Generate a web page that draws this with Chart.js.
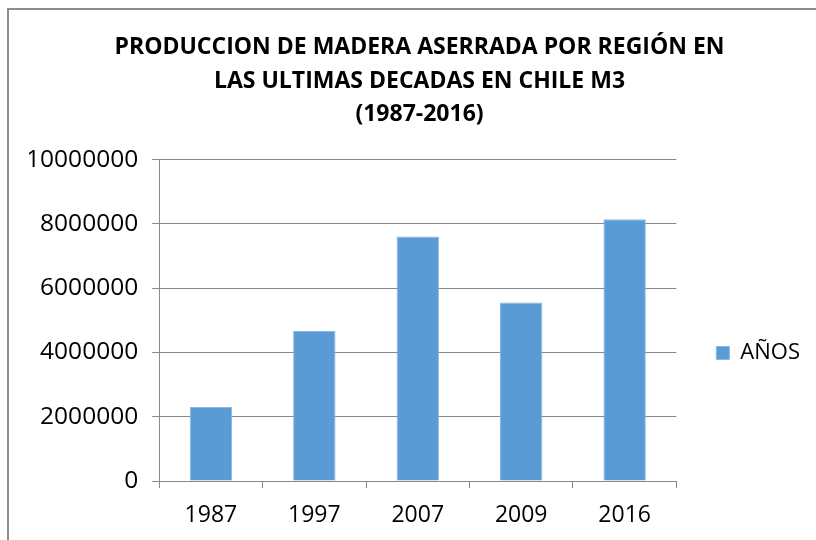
<!DOCTYPE html>
<html>
<head>
<meta charset="utf-8">
<script src="https://cdn.jsdelivr.net/npm/chart.js@4/dist/chart.umd.min.js"></script>
<style>
  html, body { margin: 0; padding: 0; background: #fff; }
  #wrap { width: 816px; height: 540px; position: relative; }
</style>
</head>
<body>
<div id="wrap"><canvas id="chart"></canvas></div>
<script>
// datos
const years = ['1987', '1997', '2007', '2009', '2016'];
const produccion = [2300000, 4670000, 7610000, 5560000, 8150000];
const yTicks = [0, 2000000, 4000000, 6000000, 8000000, 10000000];
const seriesName = 'AÑOS';
const titleLines = [
  'PRODUCCION DE MADERA ASERRADA POR REGIÓN EN',
  'LAS ULTIMAS DECADAS EN CHILE M3',
  '(1987-2016)'
];

const FONT = '"Open Sans", sans-serif';
const GRID = '#888888';

/* fondo blanco + marco gris como en Excel */
const frame = {
  id: 'frame',
  beforeDraw(c) {
    const ctx = c.ctx;
    ctx.save();
    ctx.fillStyle = '#fff';
    ctx.fillRect(0, 0, c.width, c.height);
    ctx.strokeStyle = '#8c8c8c';
    ctx.lineWidth = 2;
    ctx.beginPath();
    ctx.moveTo(8, c.height);
    ctx.lineTo(8, 9);
    ctx.lineTo(c.width, 9);
    ctx.stroke();
    ctx.restore();
  }
};

new Chart(document.getElementById('chart'), {
  type: 'bar',
  data: {
    labels: years,
    datasets: [{
      label: seriesName,
      data: produccion,
      backgroundColor: '#5b9bd5',
      borderColor: '#8ab6e2',
      borderWidth: 1,
      barPercentage: 0.41,
      categoryPercentage: 1
    }]
  },
  options: {
    responsive: true,
    maintainAspectRatio: false,
    animation: false,
    layout: { padding: { left: 29, right: 6, top: 14, bottom: 10 } },
    plugins: {
      title: {
        display: true,
        text: titleLines,
        color: '#000',
        font: { family: FONT, size: 23, weight: 'bold', lineHeight: 1.46 },
        padding: { top: 17, bottom: 28 }
      },
      legend: {
        position: 'right',
        title: { display: true, text: ' ', font: { size: 10 }, padding: { top: 0, bottom: 150 } },
        labels: {
          color: '#000',
          font: { family: FONT, size: 22 },
          boxWidth: 13,
          boxHeight: 13,
          padding: 10
        }
      },
      tooltip: { enabled: false }
    },
    scales: {
      x: {
        grid: { drawOnChartArea: false, drawTicks: true, tickLength: 7, color: GRID },
        border: { color: GRID, width: 1 },
        ticks: { color: '#000', font: { family: FONT, size: 23 }, padding: 14 },
        afterFit(axis) { axis.height = 49; }
      },
      y: {
        min: 0,
        max: 10000000,
        afterBuildTicks(axis) { axis.ticks = yTicks.map(v => ({ value: v })); },
        grid: { color: GRID, tickLength: 7 },
        border: { color: GRID, width: 1 },
        ticks: {
          color: '#000',
          font: { family: FONT, size: 24.5 },
          padding: 14,
          callback: v => String(v)
        }
      },
      // eje vacío: sólo deja hueco entre el gráfico y la leyenda
      gap: {
        position: 'right',
        grid: { display: false },
        border: { display: false },
        ticks: { display: false },
        afterFit(axis) { axis.width = 30; }
      }
    }
  },
  plugins: [frame]
});
</script>
</body>
</html>
